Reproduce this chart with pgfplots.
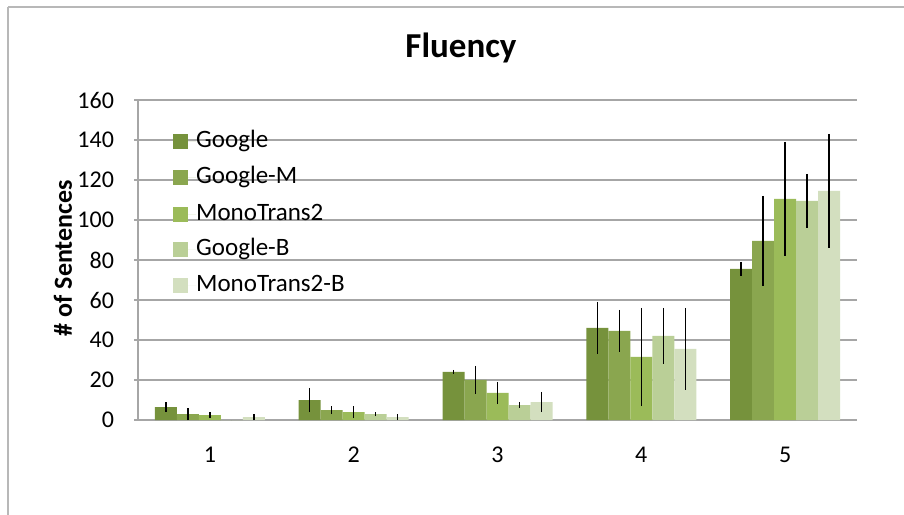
\documentclass[border=0pt]{standalone}
\usepackage{pgfplots}
\pgfplotsset{compat=1.18}
\usepackage{pgfplotstable}
\usepackage{fontspec}
\setmainfont{Carlito}
\definecolor{cG}{HTML}{76923C}
\definecolor{cGM}{HTML}{8AA64F}
\definecolor{cMT}{HTML}{9BBB59}
\definecolor{cGB}{HTML}{BACF97}
\definecolor{cMB}{HTML}{D3DFBF}
\definecolor{gridc}{HTML}{A6A6A6}
\pgfplotstableread{
cat G GE GM GME MT MTE GB GBE MB MBE
1 6.5 2.5 3 3 2.5 1.5 0 0 1.5 1.5
2 10 6 5 2 4 3 3 1 1.5 1.5
3 24 1 20 7 13.5 5.5 7.5 1.3 9 5
4 46 13 44.5 10.5 31.5 24.5 42 14 35.5 20.5
5 75.5 3.5 89.5 22.5 110.5 28.5 109.5 13.5 114.5 28.5
}\data
\begin{document}
\begin{tikzpicture}[x=0.5pt,y=0.5pt]
\useasboundingbox (0,0) rectangle (904,514);
\draw[line width=1pt, color=gridc!80] (8,507) -- (930,507);
\draw[line width=1pt, color=gridc!80] (8,507) -- (8,-20);
\node[font=\fontsize{17.5}{19}\selectfont\bfseries] at (461,466) {Fluency};
\node[font=\fontsize{13}{15}\selectfont\bfseries, rotate=90] at (63,256) {\# of Sentences};
\begin{axis}[
  at={(69pt,47pt)}, anchor=south west,
  scale only axis, width=359.5pt, height=160pt,
  xmin=0.5, xmax=5.5, ymin=0, ymax=160,
  ybar=0pt, bar width=11pt,
  xtick={1,2,3,4,5}, xtick style={draw=none},
  ytick={0,20,...,160},
  tick align=outside, major tick length=2pt,
  ytick style={color=gridc, line width=0.75pt},
  ymajorgrids, grid style={color=gridc, line width=0.75pt},
  axis x line*=bottom, axis y line*=left,
  axis line style={color=gridc, line width=0.75pt, -},
  tick label style={font=\fontsize{12}{14}\selectfont},
  /pgf/number format/assume math mode=true,
  xticklabel style={yshift=-8pt},
  yticklabel style={xshift=-6.5pt},
  legend style={at={(0.04,0.92)}, anchor=north west, draw=none, fill=none,
    font=\fontsize{12.5}{14}\selectfont, row sep=6pt,
    nodes={inner sep=0pt, text height=9pt, text depth=3pt, anchor=west}},
  legend cell align=left,
  legend image code/.code={\fill[#1] (0pt,-3.75pt) rectangle (7.5pt,3.75pt); \path (0pt,0pt) -- (11.5pt,0pt);},
  error bars/error bar style={black, line width=0.75pt},
  error bars/error mark=none,
]
\addplot[fill=cG, draw=none, error bars/.cd, y dir=both, y explicit] table[x=cat, y=G, y error=GE] {\data};
\addplot[fill=cGM, draw=none, error bars/.cd, y dir=both, y explicit] table[x=cat, y=GM, y error=GME] {\data};
\addplot[fill=cMT, draw=none, error bars/.cd, y dir=both, y explicit] table[x=cat, y=MT, y error=MTE] {\data};
\addplot[fill=cGB, draw=none, error bars/.cd, y dir=both, y explicit] table[x=cat, y=GB, y error=GBE] {\data};
\addplot[fill=cMB, draw=none, error bars/.cd, y dir=both, y explicit] table[x=cat, y=MB, y error=MBE] {\data};
\legend{Google, Google-M, MonoTrans2, Google-B, MonoTrans2-B}
\end{axis}
\end{tikzpicture}
\end{document}
